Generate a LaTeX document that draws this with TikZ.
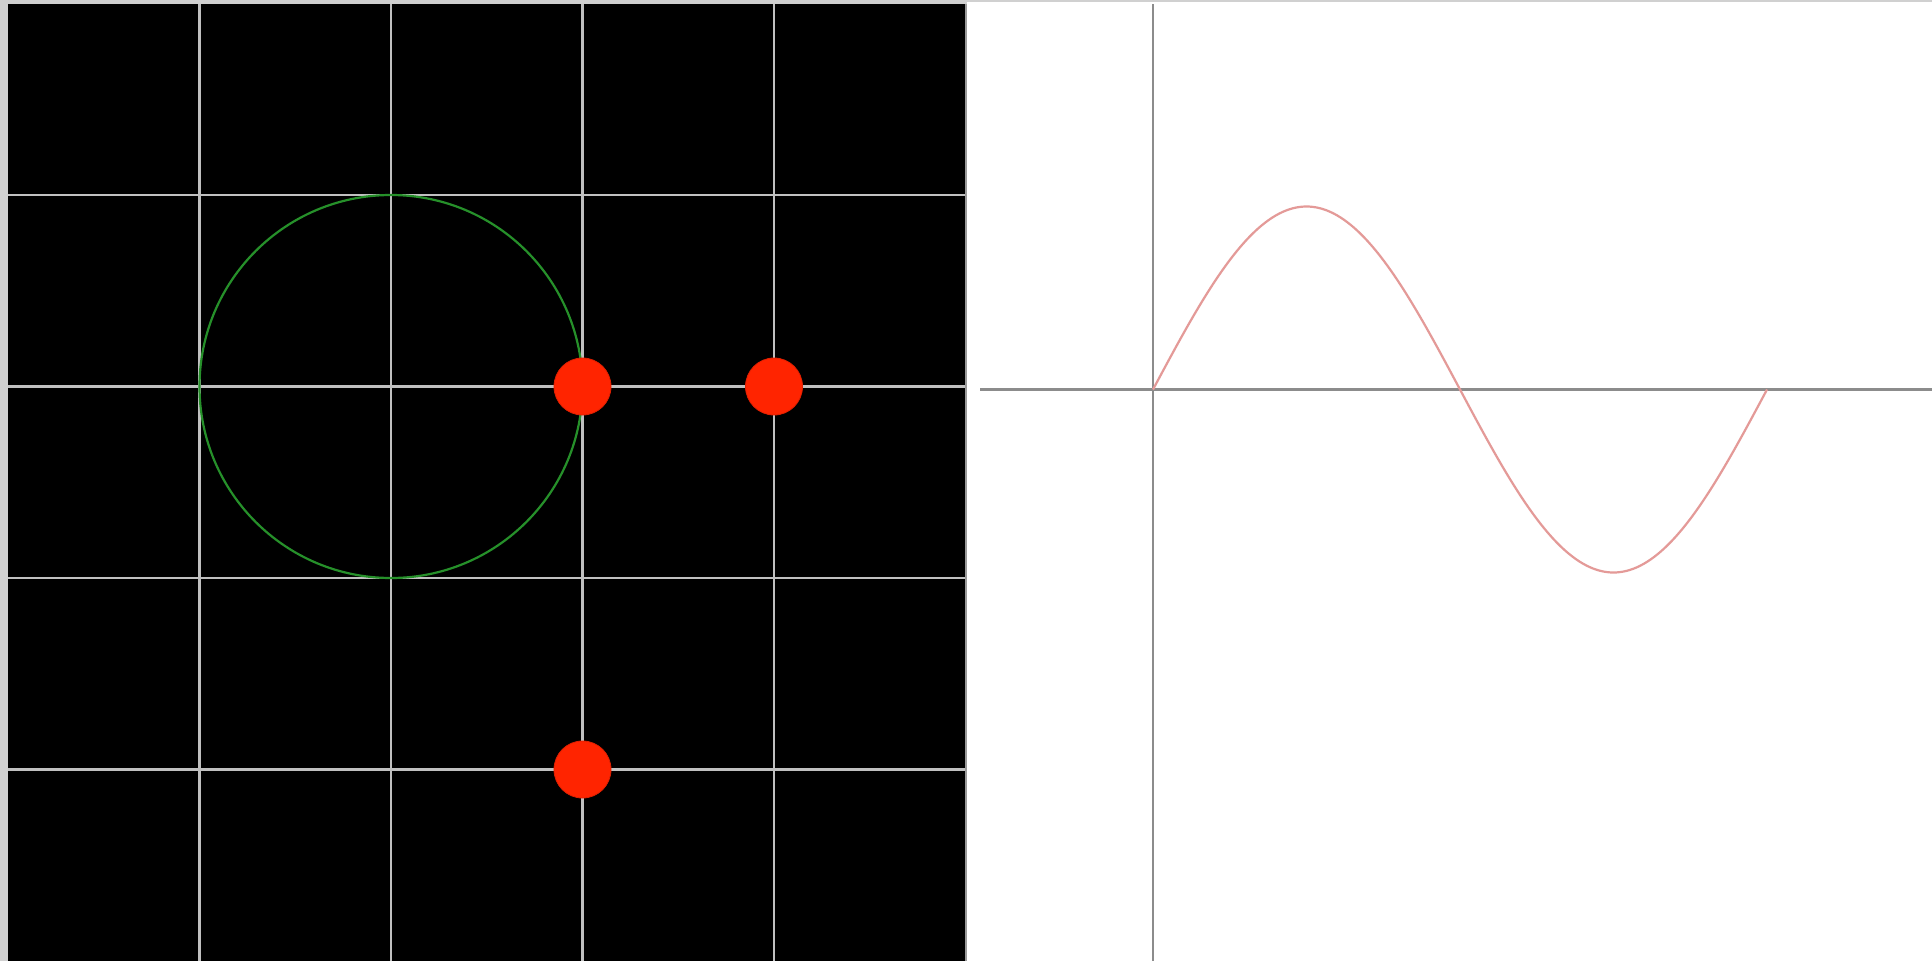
\documentclass[tikz,border=0pt]{standalone}
\definecolor{panelgray}{HTML}{D0D0D0}
\definecolor{gridgray}{HTML}{C0C0C0}
\definecolor{axisgray}{HTML}{8C8C8C}
\definecolor{circgreen}{HTML}{26902A}
\definecolor{dotred}{HTML}{FF2400}
\definecolor{dotedge}{HTML}{E02000}
\definecolor{sinered}{HTML}{E49A98}
\tikzset{
  gridline/.style={draw=gridgray, line width=2.4pt},
  axisline/.style={draw=axisgray, line width=2.4pt},
  dotnode/.style={circle, fill=dotred, draw=dotedge, line width=0.8pt, minimum size=57pt, inner sep=0pt},
  circleline/.style={draw=circgreen, line width=2.2pt},
  sineline/.style={draw=sinered, line width=2.2pt},
}
\begin{document}
\begin{tikzpicture}[x=1pt,y=-1pt]
\useasboundingbox (0,0) rectangle (1932,961);
% backgrounds
\fill[panelgray] (0,0) rectangle (1932,961);
\fill[white] (967,1.5) rectangle (1932,961);
\fill[black] (7.5,4) rectangle (965,961);
\draw[draw=gridgray!80!black, line width=2pt] (966,4) -- (966,961);
% grid
\foreach \gx in {199.5,391,582.5,774} {\draw[gridline] (\gx,4) -- (\gx,961);}
\foreach \gy in {195,386.5,578,769.5} {\draw[gridline] (7.5,\gy) -- (965,\gy);}
% circle
\coordinate (cc) at (391,386.5);
\draw[circleline] (cc) circle[radius=191.5];
% dots
\node[dotnode] (d1) at (582.5,386.5) {};
\node[dotnode] (d2) at (774,386.5) {};
\node[dotnode] (d3) at (582.5,769.5) {};
% right panel axes
\coordinate (o) at (1153,389.5);
\draw[axisline] (1153,4) -- (1153,961);
\draw[axisline] (980,389.5) -- (1932,389.5);
% sine
\draw[sineline] plot[domain=0:360, samples=181, smooth] ({1153+\x*1.705556}, {389.5-183*sin(\x)});
\end{tikzpicture}
\end{document}
